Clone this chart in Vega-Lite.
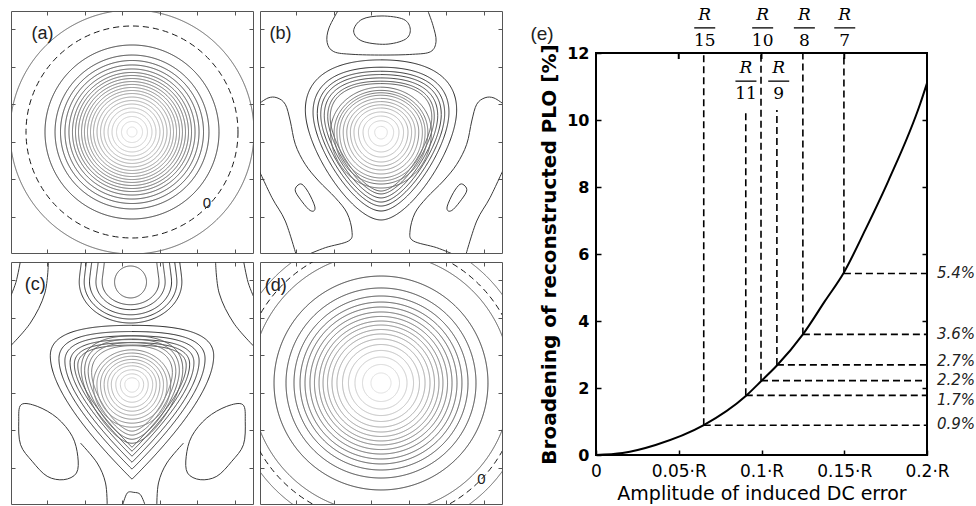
{
"$schema": "https://vega.github.io/schema/vega-lite/v6.json",
"padding": {"left": 10, "top": 5, "right": 0, "bottom": 0},
"background": "white",
"spacing": 27,
"config": {"view": {"stroke": "#555"}, "axis": {"grid": false}},
"resolve": {"scale": {"x": "independent", "y": "independent", "size": "independent", "shape": "independent", "stroke": "independent", "strokeDash": "independent"}},
"datasets": {
"rings": [
{"p":"a","x":0,"y":0,"r":1.008,"g":0.35,"s":"circle","d":"s"},
{"p":"a","x":0,"y":0,"r":0.876,"g":0,"s":"circle","d":"d"},
{"p":"a","x":0,"y":0,"r":0.719,"g":0.12,"s":"circle","d":"s"},
{"p":"a","x":0,"y":0,"r":0.636,"g":0.16,"s":"circle","d":"s"},
{"p":"a","x":0,"y":0,"r":0.591,"g":0.20,"s":"circle","d":"s"},
{"p":"a","x":0,"y":0,"r":0.554,"g":0.24,"s":"circle","d":"s"},
{"p":"a","x":0,"y":0,"r":0.521,"g":0.29,"s":"circle","d":"s"},
{"p":"a","x":0,"y":0,"r":0.492,"g":0.33,"s":"circle","d":"s"},
{"p":"a","x":0,"y":0,"r":0.467,"g":0.37,"s":"circle","d":"s"},
{"p":"a","x":0,"y":0,"r":0.442,"g":0.41,"s":"circle","d":"s"},
{"p":"a","x":0,"y":0,"r":0.417,"g":0.45,"s":"circle","d":"s"},
{"p":"a","x":0,"y":0,"r":0.393,"g":0.49,"s":"circle","d":"s"},
{"p":"a","x":0,"y":0,"r":0.368,"g":0.54,"s":"circle","d":"s"},
{"p":"a","x":0,"y":0,"r":0.343,"g":0.58,"s":"circle","d":"s"},
{"p":"a","x":0,"y":0,"r":0.318,"g":0.62,"s":"circle","d":"s"},
{"p":"a","x":0,"y":0,"r":0.289,"g":0.66,"s":"circle","d":"s"},
{"p":"a","x":0,"y":0,"r":0.260,"g":0.70,"s":"circle","d":"s"},
{"p":"a","x":0,"y":0,"r":0.231,"g":0.74,"s":"circle","d":"s"},
{"p":"a","x":0,"y":0,"r":0.198,"g":0.79,"s":"circle","d":"s"},
{"p":"a","x":0,"y":0,"r":0.165,"g":0.83,"s":"circle","d":"s"},
{"p":"a","x":0,"y":0,"r":0.128,"g":0.87,"s":"circle","d":"s"},
{"p":"a","x":0,"y":0,"r":0.087,"g":0.91,"s":"circle","d":"s"},
{"p":"a","x":0,"y":0,"r":0.041,"g":0.95,"s":"circle","d":"s"},
{"p":"d","x":0,"y":0,"r":1.240,"g":0.35,"s":"circle","d":"s"},
{"p":"d","x":0,"y":0,"r":1.149,"g":0,"s":"circle","d":"d"},
{"p":"d","x":0,"y":0,"r":1.074,"g":0.30,"s":"circle","d":"s"},
{"p":"d","x":0,"y":0,"r":0.884,"g":0.12,"s":"circle","d":"s"},
{"p":"d","x":0,"y":0,"r":0.785,"g":0.17,"s":"circle","d":"s"},
{"p":"d","x":0,"y":0,"r":0.719,"g":0.22,"s":"circle","d":"s"},
{"p":"d","x":0,"y":0,"r":0.669,"g":0.28,"s":"circle","d":"s"},
{"p":"d","x":0,"y":0,"r":0.628,"g":0.33,"s":"circle","d":"s"},
{"p":"d","x":0,"y":0,"r":0.587,"g":0.38,"s":"circle","d":"s"},
{"p":"d","x":0,"y":0,"r":0.550,"g":0.43,"s":"circle","d":"s"},
{"p":"d","x":0,"y":0,"r":0.512,"g":0.48,"s":"circle","d":"s"},
{"p":"d","x":0,"y":0,"r":0.479,"g":0.54,"s":"circle","d":"s"},
{"p":"d","x":0,"y":0,"r":0.442,"g":0.59,"s":"circle","d":"s"},
{"p":"d","x":0,"y":0,"r":0.405,"g":0.64,"s":"circle","d":"s"},
{"p":"d","x":0,"y":0,"r":0.364,"g":0.69,"s":"circle","d":"s"},
{"p":"d","x":0,"y":0,"r":0.318,"g":0.74,"s":"circle","d":"s"},
{"p":"d","x":0,"y":0,"r":0.269,"g":0.80,"s":"circle","d":"s"},
{"p":"d","x":0,"y":0,"r":0.215,"g":0.85,"s":"circle","d":"s"},
{"p":"d","x":0,"y":0,"r":0.153,"g":0.90,"s":"circle","d":"s"},
{"p":"d","x":0,"y":0,"r":0.083,"g":0.95,"s":"circle","d":"s"},
{"p":"b","x":0,"y":0,"r":0.727,"g":0.08,"s":"tri","d":"s"},
{"p":"b","x":0,"y":0,"r":0.653,"g":0.13,"s":"tri","d":"s"},
{"p":"b","x":0,"y":0,"r":0.612,"g":0.18,"s":"tri","d":"s"},
{"p":"b","x":0,"y":0,"r":0.579,"g":0.22,"s":"tri","d":"s"},
{"p":"b","x":0,"y":0,"r":0.545,"g":0.27,"s":"tri","d":"s"},
{"p":"b","x":0,"y":0,"r":0.512,"g":0.32,"s":"tri","d":"s"},
{"p":"b","x":0,"y":0,"r":0.488,"g":0.37,"s":"tri","d":"s"},
{"p":"b","x":0,"y":0,"r":0.463,"g":0.42,"s":"egg","d":"s"},
{"p":"b","x":0,"y":0,"r":0.430,"g":0.46,"s":"egg","d":"s"},
{"p":"b","x":0,"y":0,"r":0.405,"g":0.51,"s":"egg","d":"s"},
{"p":"b","x":0,"y":0,"r":0.380,"g":0.56,"s":"egg","d":"s"},
{"p":"b","x":0,"y":0,"r":0.347,"g":0.61,"s":"egg","d":"s"},
{"p":"b","x":0,"y":0,"r":0.314,"g":0.66,"s":"egg","d":"s"},
{"p":"b","x":0,"y":0,"r":0.281,"g":0.70,"s":"egg","d":"s"},
{"p":"b","x":0,"y":0,"r":0.248,"g":0.75,"s":"egg","d":"s"},
{"p":"b","x":0,"y":0,"r":0.207,"g":0.80,"s":"egg","d":"s"},
{"p":"b","x":0,"y":0,"r":0.165,"g":0.85,"s":"egg","d":"s"},
{"p":"b","x":0,"y":0,"r":0.116,"g":0.90,"s":"egg","d":"s"},
{"p":"b","x":0,"y":0,"r":0.058,"g":0.94,"s":"egg","d":"s"},
{"p":"c","x":0,"y":-0.01,"r":0.785,"g":0.08,"s":"tri2","d":"s"},
{"p":"c","x":0,"y":-0.01,"r":0.702,"g":0.13,"s":"tri2","d":"s"},
{"p":"c","x":0,"y":-0.01,"r":0.645,"g":0.17,"s":"tri2","d":"s"},
{"p":"c","x":0,"y":-0.01,"r":0.595,"g":0.22,"s":"tri2","d":"s"},
{"p":"c","x":0,"y":-0.01,"r":0.554,"g":0.26,"s":"tri2","d":"s"},
{"p":"c","x":0,"y":-0.01,"r":0.521,"g":0.31,"s":"tri2","d":"s"},
{"p":"c","x":0,"y":-0.01,"r":0.488,"g":0.36,"s":"tri","d":"s"},
{"p":"c","x":0,"y":-0.01,"r":0.455,"g":0.40,"s":"tri","d":"s"},
{"p":"c","x":0,"y":-0.01,"r":0.421,"g":0.45,"s":"tri","d":"s"},
{"p":"c","x":0,"y":-0.01,"r":0.388,"g":0.49,"s":"tri","d":"s"},
{"p":"c","x":0,"y":-0.01,"r":0.355,"g":0.54,"s":"egg","d":"s"},
{"p":"c","x":0,"y":-0.01,"r":0.322,"g":0.59,"s":"egg","d":"s"},
{"p":"c","x":0,"y":-0.01,"r":0.289,"g":0.63,"s":"egg","d":"s"},
{"p":"c","x":0,"y":-0.01,"r":0.256,"g":0.68,"s":"egg","d":"s"},
{"p":"c","x":0,"y":-0.01,"r":0.223,"g":0.72,"s":"egg","d":"s"},
{"p":"c","x":0,"y":-0.01,"r":0.190,"g":0.77,"s":"egg","d":"s"},
{"p":"c","x":0,"y":-0.01,"r":0.149,"g":0.82,"s":"egg","d":"s"},
{"p":"c","x":0,"y":-0.01,"r":0.107,"g":0.87,"s":"egg","d":"s"},
{"p":"c","x":0,"y":-0.01,"r":0.066,"g":0.92,"s":"egg","d":"s"},
{"p":"c","x":-0.012,"y":0.835,"r":0.132,"g":0.30,"s":"circle","d":"s"},
{"p":"c","x":-0.012,"y":0.835,"r":0.235,"g":0.25,"s":"U","d":"s"},
{"p":"c","x":-0.012,"y":0.835,"r":0.286,"g":0.21,"s":"U","d":"s"},
{"p":"c","x":-0.012,"y":0.835,"r":0.339,"g":0.17,"s":"U","d":"s"},
{"p":"c","x":-0.012,"y":0.835,"r":0.383,"g":0.14,"s":"U","d":"s"},
{"p":"c","x":-0.012,"y":0.835,"r":0.424,"g":0.11,"s":"U","d":"s"}
],
"curves": [
{"p":"b","id":"bt","i":0,"x":-0.345,"y":1.02},
{"p":"b","id":"bt","i":1,"x":-0.43,"y":0.86},
{"p":"b","id":"bt","i":2,"x":-0.445,"y":0.74},
{"p":"b","id":"bt","i":3,"x":-0.39,"y":0.664},
{"p":"b","id":"bt","i":4,"x":-0.24,"y":0.642},
{"p":"b","id":"bt","i":5,"x":0.01,"y":0.636},
{"p":"b","id":"bt","i":6,"x":0.26,"y":0.642},
{"p":"b","id":"bt","i":7,"x":0.41,"y":0.664},
{"p":"b","id":"bt","i":8,"x":0.455,"y":0.75},
{"p":"b","id":"bt","i":9,"x":0.43,"y":0.88},
{"p":"b","id":"bt","i":10,"x":0.38,"y":1.02},
{"p":"b","id":"bl1","i":0,"x":-1.02,"y":0.225},
{"p":"b","id":"bl1","i":1,"x":-0.934,"y":0.281},
{"p":"b","id":"bl1","i":2,"x":-0.86,"y":0.283},
{"p":"b","id":"bl1","i":3,"x":-0.791,"y":0.229},
{"p":"b","id":"bl1","i":4,"x":-0.75,"y":0.091},
{"p":"b","id":"bl1","i":5,"x":-0.708,"y":-0.102},
{"p":"b","id":"bl1","i":6,"x":-0.626,"y":-0.267},
{"p":"b","id":"bl1","i":7,"x":-0.515,"y":-0.405},
{"p":"b","id":"bl1","i":8,"x":-0.378,"y":-0.543},
{"p":"b","id":"bl1","i":9,"x":-0.281,"y":-0.669},
{"p":"b","id":"bl1","i":10,"x":-0.24,"y":-0.818},
{"p":"b","id":"bl1","i":11,"x":-0.267,"y":-0.9},
{"p":"b","id":"bl1","i":12,"x":-0.46,"y":-0.956},
{"p":"b","id":"bl1","i":13,"x":-0.62,"y":-1.02},
{"p":"b","id":"bl2","i":0,"x":-1.02,"y":-0.29},
{"p":"b","id":"bl2","i":1,"x":-0.901,"y":-0.543},
{"p":"b","id":"bl2","i":2,"x":-0.791,"y":-0.736},
{"p":"b","id":"bl2","i":3,"x":-0.70,"y":-1.02},
{"p":"b","id":"br1","i":0,"x":1.02,"y":0.225},
{"p":"b","id":"br1","i":1,"x":0.934,"y":0.281},
{"p":"b","id":"br1","i":2,"x":0.86,"y":0.283},
{"p":"b","id":"br1","i":3,"x":0.791,"y":0.229},
{"p":"b","id":"br1","i":4,"x":0.75,"y":0.091},
{"p":"b","id":"br1","i":5,"x":0.708,"y":-0.102},
{"p":"b","id":"br1","i":6,"x":0.626,"y":-0.267},
{"p":"b","id":"br1","i":7,"x":0.515,"y":-0.405},
{"p":"b","id":"br1","i":8,"x":0.378,"y":-0.543},
{"p":"b","id":"br1","i":9,"x":0.281,"y":-0.669},
{"p":"b","id":"br1","i":10,"x":0.24,"y":-0.818},
{"p":"b","id":"br1","i":11,"x":0.267,"y":-0.9},
{"p":"b","id":"br1","i":12,"x":0.46,"y":-0.956},
{"p":"b","id":"br1","i":13,"x":0.62,"y":-1.02},
{"p":"b","id":"br2","i":0,"x":1.02,"y":-0.29},
{"p":"b","id":"br2","i":1,"x":0.901,"y":-0.543},
{"p":"b","id":"br2","i":2,"x":0.791,"y":-0.736},
{"p":"b","id":"br2","i":3,"x":0.70,"y":-1.02},
{"p":"c","id":"cb","i":0,"x":-0.081,"y":-1.02},
{"p":"c","id":"cb","i":1,"x":-0.04,"y":-0.91},
{"p":"c","id":"cb","i":2,"x":0.015,"y":-0.904},
{"p":"c","id":"cb","i":3,"x":0.07,"y":-0.923},
{"p":"c","id":"cb","i":4,"x":0.112,"y":-1.02},
{"p":"c","id":"cl","i":0,"x":-0.426,"y":-0.496},
{"p":"c","id":"cl","i":1,"x":-0.288,"y":-0.661},
{"p":"c","id":"cl","i":2,"x":-0.219,"y":-0.826},
{"p":"c","id":"cl","i":3,"x":-0.205,"y":-1.02},
{"p":"c","id":"cr","i":0,"x":0.426,"y":-0.496},
{"p":"c","id":"cr","i":1,"x":0.288,"y":-0.661},
{"p":"c","id":"cr","i":2,"x":0.219,"y":-0.826},
{"p":"c","id":"cr","i":3,"x":0.205,"y":-1.02},
{"p":"c","id":"cL1","i":0,"x":-0.69,"y":1.02},
{"p":"c","id":"cL1","i":1,"x":-0.72,"y":0.744},
{"p":"c","id":"cL1","i":2,"x":-0.84,"y":0.496},
{"p":"c","id":"cL1","i":3,"x":-1.02,"y":0.29},
{"p":"c","id":"cL2","i":0,"x":-0.92,"y":1.02},
{"p":"c","id":"cL2","i":1,"x":-0.96,"y":0.83},
{"p":"c","id":"cL2","i":2,"x":-1.02,"y":0.68},
{"p":"c","id":"cR1","i":0,"x":0.69,"y":1.02},
{"p":"c","id":"cR1","i":1,"x":0.72,"y":0.744},
{"p":"c","id":"cR1","i":2,"x":0.84,"y":0.496},
{"p":"c","id":"cR1","i":3,"x":1.02,"y":0.29},
{"p":"c","id":"cR2","i":0,"x":0.92,"y":1.02},
{"p":"c","id":"cR2","i":1,"x":0.96,"y":0.83},
{"p":"c","id":"cR2","i":2,"x":1.02,"y":0.68}
],
"loops": [
{"p":"b","id":"bto","i":0,"x":-0.226,"y":0.835},
{"p":"b","id":"bto","i":1,"x":-0.157,"y":0.931},
{"p":"b","id":"bto","i":2,"x":0.008,"y":0.959},
{"p":"b","id":"bto","i":3,"x":0.187,"y":0.931},
{"p":"b","id":"bto","i":4,"x":0.242,"y":0.849},
{"p":"b","id":"bto","i":5,"x":0.201,"y":0.766},
{"p":"b","id":"bto","i":6,"x":0.036,"y":0.725},
{"p":"b","id":"bto","i":7,"x":-0.157,"y":0.752},
{"p":"b","id":"blo","i":0,"x":-0.694,"y":-0.446},
{"p":"b","id":"blo","i":1,"x":-0.653,"y":-0.432},
{"p":"b","id":"blo","i":2,"x":-0.598,"y":-0.502},
{"p":"b","id":"blo","i":3,"x":-0.548,"y":-0.612},
{"p":"b","id":"blo","i":4,"x":-0.556,"y":-0.653},
{"p":"b","id":"blo","i":5,"x":-0.598,"y":-0.639},
{"p":"b","id":"blo","i":6,"x":-0.667,"y":-0.556},
{"p":"b","id":"blo","i":7,"x":-0.708,"y":-0.488},
{"p":"b","id":"bro","i":0,"x":0.694,"y":-0.446},
{"p":"b","id":"bro","i":1,"x":0.653,"y":-0.432},
{"p":"b","id":"bro","i":2,"x":0.598,"y":-0.502},
{"p":"b","id":"bro","i":3,"x":0.548,"y":-0.612},
{"p":"b","id":"bro","i":4,"x":0.556,"y":-0.653},
{"p":"b","id":"bro","i":5,"x":0.598,"y":-0.639},
{"p":"b","id":"bro","i":6,"x":0.667,"y":-0.556},
{"p":"b","id":"bro","i":7,"x":0.708,"y":-0.488},
{"p":"c","id":"clo","i":0,"x":-0.916,"y":-0.179},
{"p":"c","id":"clo","i":1,"x":-0.783,"y":-0.193},
{"p":"c","id":"clo","i":2,"x":-0.618,"y":-0.289},
{"p":"c","id":"clo","i":3,"x":-0.494,"y":-0.44},
{"p":"c","id":"clo","i":4,"x":-0.448,"y":-0.606},
{"p":"c","id":"clo","i":5,"x":-0.459,"y":-0.744},
{"p":"c","id":"clo","i":6,"x":-0.564,"y":-0.799},
{"p":"c","id":"clo","i":7,"x":-0.701,"y":-0.771},
{"p":"c","id":"clo","i":8,"x":-0.825,"y":-0.647},
{"p":"c","id":"clo","i":9,"x":-0.921,"y":-0.51},
{"p":"c","id":"clo","i":10,"x":-0.936,"y":-0.317},
{"p":"c","id":"cro","i":0,"x":0.916,"y":-0.179},
{"p":"c","id":"cro","i":1,"x":0.783,"y":-0.193},
{"p":"c","id":"cro","i":2,"x":0.618,"y":-0.289},
{"p":"c","id":"cro","i":3,"x":0.494,"y":-0.44},
{"p":"c","id":"cro","i":4,"x":0.448,"y":-0.606},
{"p":"c","id":"cro","i":5,"x":0.459,"y":-0.744},
{"p":"c","id":"cro","i":6,"x":0.564,"y":-0.799},
{"p":"c","id":"cro","i":7,"x":0.701,"y":-0.771},
{"p":"c","id":"cro","i":8,"x":0.825,"y":-0.647},
{"p":"c","id":"cro","i":9,"x":0.921,"y":-0.51},
{"p":"c","id":"cro","i":10,"x":0.936,"y":-0.317}
],
"labels": [
{"p":"a","k":"tag","x":-0.74,"y":0.81,"t":"(a)"},
{"p":"a","k":"zero","x":0.62,"y":-0.59,"t":"0"},
{"p":"b","k":"tag","x":-0.83,"y":0.81,"t":"(b)"},
{"p":"c","k":"tag","x":-0.8,"y":0.81,"t":"(c)"},
{"p":"d","k":"tag","x":-0.87,"y":0.80,"t":"(d)"},
{"p":"d","k":"zero","x":0.83,"y":-0.79,"t":"0"}
],
"eBox": [
{"x":0,"x2":0,"y":0,"y2":12},
{"x":0.2,"x2":0.2,"y":0,"y2":12},
{"x":0,"x2":0.2,"y":0,"y2":0},
{"x":0,"x2":0.2,"y":12,"y2":12},
{"x":0.05,"x2":0.05,"y":11.85,"y2":12},
{"x":0.1,"x2":0.1,"y":11.85,"y2":12},
{"x":0.15,"x2":0.15,"y":11.85,"y2":12}
],
"eCurve": [
{"x":0,"y":0},{"x":0.016,"y":0.06},{"x":0.036,"y":0.3},{"x":0.0651,"y":0.89},{"x":0.0905,"y":1.76},{"x":0.0997,"y":2.2},{"x":0.1093,"y":2.67},{"x":0.125,"y":3.6},{"x":0.1384,"y":4.6},{"x":0.1498,"y":5.45},{"x":0.1627,"y":6.72},{"x":0.1768,"y":8.2},{"x":0.196,"y":10.5},{"x":0.2,"y":11.1}
],
"eV": [
{"x":0.0651,"y0":0.89,"y1":12},
{"x":0.0905,"y0":1.78,"y1":10.3},
{"x":0.0997,"y0":2.22,"y1":12},
{"x":0.1093,"y0":2.69,"y1":10.3},
{"x":0.125,"y0":3.6,"y1":12},
{"x":0.1498,"y0":5.42,"y1":12}
],
"eH": [
{"x":0.0651,"y":0.89},{"x":0.0905,"y":1.78},{"x":0.0997,"y":2.22},{"x":0.1093,"y":2.69},{"x":0.125,"y":3.6},{"x":0.1498,"y":5.42}
],
"eFrac": [
{"x":0.0657,"yR":13.14,"yB":12.75,"yN":12.36,"n":"15"},
{"x":0.1007,"yR":13.14,"yB":12.75,"yN":12.36,"n":"10"},
{"x":0.1259,"yR":13.14,"yB":12.75,"yN":12.36,"n":"8"},
{"x":0.1503,"yR":13.14,"yB":12.75,"yN":12.36,"n":"7"},
{"x":0.0906,"yR":11.55,"yB":11.16,"yN":10.78,"n":"11"},
{"x":0.1104,"yR":11.55,"yB":11.16,"yN":10.78,"n":"9"}
],
"ePct": [
{"y":5.42,"t":"5.4%"},{"y":3.6,"t":"3.6%"},{"y":2.81,"t":"2.7%"},{"y":2.23,"t":"2.2%"},{"y":1.64,"t":"1.7%"},{"y":0.92,"t":"0.9%"}
],
"eTag": [{"x":-0.0326,"y":12.57,"t":"(e)"}]
},
"hconcat": [
{"vconcat": [
 {"hconcat": [
  {"width":242,"height":242,"view":{"stroke":"#555","strokeWidth":1},
   "resolve":{"axis":{"x":"independent","y":"independent"}},
   "layer":[
    {"data":{"name":"rings"},"transform":[{"filter":"datum.p=='a'"}],
     "mark":{"type":"point","filled":false,"clip":true,"opacity":1,"strokeWidth":1},
     "encoding":{
      "x":{"field":"x","type":"quantitative","scale":{"domain":[-1,1]},"axis":{"orient":"bottom","values":[-0.7,-0.39,-0.08,0.23,0.54,0.85],"labels":false,"domain":false,"tickSize":-4,"tickColor":"#555","title":null}},
      "y":{"field":"y","type":"quantitative","scale":{"domain":[-1,1]},"axis":{"orient":"left","values":[-0.7,-0.39,-0.08,0.23,0.54,0.85],"labels":false,"domain":false,"tickSize":-4,"tickColor":"#555","title":null}},
      "size":{"field":"r","type":"quantitative","scale":{"type":"pow","exponent":2,"domain":[0,2],"range":[0,234256]},"legend":null},
      "shape":{"field":"s","type":"nominal","scale":{"domain":["circle","egg","tri","tri2","U"],"range":["circle","M0,-0.8C0.5,-0.8 0.9,-0.44 0.9,0C0.9,0.55 0.5,1 0,1C-0.5,1 -0.9,0.55 -0.9,0C-0.9,-0.44 -0.5,-0.8 0,-0.8Z","M0,-0.82C0.55,-0.82 0.86,-0.62 0.86,-0.25C0.86,0.2 0.32,1 0,1C-0.32,1 -0.86,0.2 -0.86,-0.25C-0.86,-0.62 -0.55,-0.82 0,-0.82Z","M0,-0.62C0.5,-0.62 0.86,-0.55 0.86,-0.3C0.86,0.1 0.3,0.7 0,1C-0.3,0.7 -0.86,0.1 -0.86,-0.3C-0.86,-0.55 -0.5,-0.62 0,-0.62Z","M-0.85,-1.6C-0.9,-0.6 -1,-0.2 -1,0C-1,0.44 -0.55,0.8 0,0.8C0.55,0.8 1,0.44 1,0C1,-0.2 0.9,-0.6 0.85,-1.6"]},"legend":null},
      "stroke":{"field":"g","type":"quantitative","scale":{"domain":[0,1],"range":["#1a1a1a","#ececec"]},"legend":null},
      "strokeDash":{"field":"d","type":"nominal","scale":{"domain":["s","d"],"range":[[1,0],[6,4]]},"legend":null}
     }},
    {"data":{"name":"labels"},"transform":[{"filter":"datum.p=='a' && datum.k=='tag'"}],
     "mark":{"type":"text","font":"Liberation Sans","fontSize":18,"color":"#222"},
     "encoding":{
      "x":{"field":"x","type":"quantitative","axis":{"orient":"top","values":[-0.7,-0.39,-0.08,0.23,0.54,0.85],"labels":false,"domain":false,"tickSize":-4,"tickColor":"#555","title":null}},
      "y":{"field":"y","type":"quantitative","axis":{"orient":"right","values":[-0.7,-0.39,-0.08,0.23,0.54,0.85],"labels":false,"domain":false,"tickSize":-4,"tickColor":"#555","title":null}},
      "text":{"field":"t"}}},
    {"data":{"name":"labels"},"transform":[{"filter":"datum.p=='a' && datum.k=='zero'"}],
     "mark":{"type":"text","font":"Liberation Sans","fontSize":15,"color":"#222"},
     "encoding":{"x":{"field":"x","type":"quantitative","axis":null},"y":{"field":"y","type":"quantitative","axis":null},"text":{"field":"t"}}}
   ]},
  {"width":242,"height":242,"view":{"stroke":"#555","strokeWidth":1},
   "resolve":{"axis":{"x":"independent","y":"independent"}},
   "layer":[
    {"data":{"name":"rings"},"transform":[{"filter":"datum.p=='b'"}],
     "mark":{"type":"point","filled":false,"clip":true,"opacity":1,"strokeWidth":1},
     "encoding":{
      "x":{"field":"x","type":"quantitative","scale":{"domain":[-1,1]},"axis":{"orient":"bottom","values":[-0.7,-0.39,-0.08,0.23,0.54,0.85],"labels":false,"domain":false,"tickSize":-4,"tickColor":"#555","title":null}},
      "y":{"field":"y","type":"quantitative","scale":{"domain":[-1,1]},"axis":{"orient":"left","values":[-0.7,-0.39,-0.08,0.23,0.54,0.85],"labels":false,"domain":false,"tickSize":-4,"tickColor":"#555","title":null}},
      "size":{"field":"r","type":"quantitative","scale":{"type":"pow","exponent":2,"domain":[0,2],"range":[0,234256]},"legend":null},
      "shape":{"field":"s","type":"nominal","scale":{"domain":["circle","egg","tri","tri2","U"],"range":["circle","M0,-0.8C0.5,-0.8 0.9,-0.44 0.9,0C0.9,0.55 0.5,1 0,1C-0.5,1 -0.9,0.55 -0.9,0C-0.9,-0.44 -0.5,-0.8 0,-0.8Z","M0,-0.82C0.55,-0.82 0.86,-0.62 0.86,-0.25C0.86,0.2 0.32,1 0,1C-0.32,1 -0.86,0.2 -0.86,-0.25C-0.86,-0.62 -0.55,-0.82 0,-0.82Z","M0,-0.62C0.5,-0.62 0.86,-0.55 0.86,-0.3C0.86,0.1 0.3,0.7 0,1C-0.3,0.7 -0.86,0.1 -0.86,-0.3C-0.86,-0.55 -0.5,-0.62 0,-0.62Z","M-0.85,-1.6C-0.9,-0.6 -1,-0.2 -1,0C-1,0.44 -0.55,0.8 0,0.8C0.55,0.8 1,0.44 1,0C1,-0.2 0.9,-0.6 0.85,-1.6"]},"legend":null},
      "stroke":{"field":"g","type":"quantitative","scale":{"domain":[0,1],"range":["#1a1a1a","#ececec"]},"legend":null},
      "strokeDash":{"field":"d","type":"nominal","scale":{"domain":["s","d"],"range":[[1,0],[6,4]]},"legend":null}
     }},
    {"data":{"name":"curves"},"transform":[{"filter":"datum.p=='b'"}],
     "mark":{"type":"line","interpolate":"cardinal","clip":true,"strokeWidth":1,"color":"#3a3a3a"},
     "encoding":{"x":{"field":"x","type":"quantitative","axis":null},"y":{"field":"y","type":"quantitative","axis":null},"detail":{"field":"id"},"order":{"field":"i","type":"quantitative"}}},
    {"data":{"name":"loops"},"transform":[{"filter":"datum.p=='b'"}],
     "mark":{"type":"line","interpolate":"cardinal-closed","clip":true,"strokeWidth":1,"color":"#3a3a3a"},
     "encoding":{"x":{"field":"x","type":"quantitative","axis":null},"y":{"field":"y","type":"quantitative","axis":null},"detail":{"field":"id"},"order":{"field":"i","type":"quantitative"}}},
    {"data":{"name":"labels"},"transform":[{"filter":"datum.p=='b' && datum.k=='tag'"}],
     "mark":{"type":"text","font":"Liberation Sans","fontSize":18,"color":"#222"},
     "encoding":{
      "x":{"field":"x","type":"quantitative","axis":{"orient":"top","values":[-0.7,-0.39,-0.08,0.23,0.54,0.85],"labels":false,"domain":false,"tickSize":-4,"tickColor":"#555","title":null}},
      "y":{"field":"y","type":"quantitative","axis":{"orient":"right","values":[-0.7,-0.39,-0.08,0.23,0.54,0.85],"labels":false,"domain":false,"tickSize":-4,"tickColor":"#555","title":null}},
      "text":{"field":"t"}}}
   ]}
 ], "spacing": 5, "resolve": {"scale": {"x": "independent", "y": "independent"}}},
 {"hconcat": [
  {"width":242,"height":242,"view":{"stroke":"#555","strokeWidth":1},
   "resolve":{"axis":{"x":"independent","y":"independent"}},
   "layer":[
    {"data":{"name":"rings"},"transform":[{"filter":"datum.p=='c'"}],
     "mark":{"type":"point","filled":false,"clip":true,"opacity":1,"strokeWidth":1},
     "encoding":{
      "x":{"field":"x","type":"quantitative","scale":{"domain":[-1,1]},"axis":{"orient":"bottom","values":[-0.7,-0.39,-0.08,0.23,0.54,0.85],"labels":false,"domain":false,"tickSize":-4,"tickColor":"#555","title":null}},
      "y":{"field":"y","type":"quantitative","scale":{"domain":[-1,1]},"axis":{"orient":"left","values":[-0.7,-0.39,-0.08,0.23,0.54,0.85],"labels":false,"domain":false,"tickSize":-4,"tickColor":"#555","title":null}},
      "size":{"field":"r","type":"quantitative","scale":{"type":"pow","exponent":2,"domain":[0,2],"range":[0,234256]},"legend":null},
      "shape":{"field":"s","type":"nominal","scale":{"domain":["circle","egg","tri","tri2","U"],"range":["circle","M0,-0.8C0.5,-0.8 0.9,-0.44 0.9,0C0.9,0.55 0.5,1 0,1C-0.5,1 -0.9,0.55 -0.9,0C-0.9,-0.44 -0.5,-0.8 0,-0.8Z","M0,-0.82C0.55,-0.82 0.86,-0.62 0.86,-0.25C0.86,0.2 0.32,1 0,1C-0.32,1 -0.86,0.2 -0.86,-0.25C-0.86,-0.62 -0.55,-0.82 0,-0.82Z","M0,-0.62C0.5,-0.62 0.86,-0.55 0.86,-0.3C0.86,0.1 0.3,0.7 0,1C-0.3,0.7 -0.86,0.1 -0.86,-0.3C-0.86,-0.55 -0.5,-0.62 0,-0.62Z","M-0.85,-1.6C-0.9,-0.6 -1,-0.2 -1,0C-1,0.44 -0.55,0.8 0,0.8C0.55,0.8 1,0.44 1,0C1,-0.2 0.9,-0.6 0.85,-1.6"]},"legend":null},
      "stroke":{"field":"g","type":"quantitative","scale":{"domain":[0,1],"range":["#1a1a1a","#ececec"]},"legend":null},
      "strokeDash":{"field":"d","type":"nominal","scale":{"domain":["s","d"],"range":[[1,0],[6,4]]},"legend":null}
     }},
    {"data":{"name":"curves"},"transform":[{"filter":"datum.p=='c'"}],
     "mark":{"type":"line","interpolate":"cardinal","clip":true,"strokeWidth":1,"color":"#3a3a3a"},
     "encoding":{"x":{"field":"x","type":"quantitative","axis":null},"y":{"field":"y","type":"quantitative","axis":null},"detail":{"field":"id"},"order":{"field":"i","type":"quantitative"}}},
    {"data":{"name":"loops"},"transform":[{"filter":"datum.p=='c'"}],
     "mark":{"type":"line","interpolate":"cardinal-closed","clip":true,"strokeWidth":1,"color":"#3a3a3a"},
     "encoding":{"x":{"field":"x","type":"quantitative","axis":null},"y":{"field":"y","type":"quantitative","axis":null},"detail":{"field":"id"},"order":{"field":"i","type":"quantitative"}}},
    {"data":{"name":"labels"},"transform":[{"filter":"datum.p=='c' && datum.k=='tag'"}],
     "mark":{"type":"text","font":"Liberation Sans","fontSize":18,"color":"#222"},
     "encoding":{
      "x":{"field":"x","type":"quantitative","axis":{"orient":"top","values":[-0.7,-0.39,-0.08,0.23,0.54,0.85],"labels":false,"domain":false,"tickSize":-4,"tickColor":"#555","title":null}},
      "y":{"field":"y","type":"quantitative","axis":{"orient":"right","values":[-0.7,-0.39,-0.08,0.23,0.54,0.85],"labels":false,"domain":false,"tickSize":-4,"tickColor":"#555","title":null}},
      "text":{"field":"t"}}}
   ]},
  {"width":242,"height":242,"view":{"stroke":"#555","strokeWidth":1},
   "resolve":{"axis":{"x":"independent","y":"independent"}},
   "layer":[
    {"data":{"name":"rings"},"transform":[{"filter":"datum.p=='d'"}],
     "mark":{"type":"point","filled":false,"clip":true,"opacity":1,"strokeWidth":1},
     "encoding":{
      "x":{"field":"x","type":"quantitative","scale":{"domain":[-1,1]},"axis":{"orient":"bottom","values":[-0.7,-0.39,-0.08,0.23,0.54,0.85],"labels":false,"domain":false,"tickSize":-4,"tickColor":"#555","title":null}},
      "y":{"field":"y","type":"quantitative","scale":{"domain":[-1,1]},"axis":{"orient":"left","values":[-0.7,-0.39,-0.08,0.23,0.54,0.85],"labels":false,"domain":false,"tickSize":-4,"tickColor":"#555","title":null}},
      "size":{"field":"r","type":"quantitative","scale":{"type":"pow","exponent":2,"domain":[0,2],"range":[0,234256]},"legend":null},
      "shape":{"field":"s","type":"nominal","scale":{"domain":["circle","egg","tri","tri2","U"],"range":["circle","M0,-0.8C0.5,-0.8 0.9,-0.44 0.9,0C0.9,0.55 0.5,1 0,1C-0.5,1 -0.9,0.55 -0.9,0C-0.9,-0.44 -0.5,-0.8 0,-0.8Z","M0,-0.82C0.55,-0.82 0.86,-0.62 0.86,-0.25C0.86,0.2 0.32,1 0,1C-0.32,1 -0.86,0.2 -0.86,-0.25C-0.86,-0.62 -0.55,-0.82 0,-0.82Z","M0,-0.62C0.5,-0.62 0.86,-0.55 0.86,-0.3C0.86,0.1 0.3,0.7 0,1C-0.3,0.7 -0.86,0.1 -0.86,-0.3C-0.86,-0.55 -0.5,-0.62 0,-0.62Z","M-0.85,-1.6C-0.9,-0.6 -1,-0.2 -1,0C-1,0.44 -0.55,0.8 0,0.8C0.55,0.8 1,0.44 1,0C1,-0.2 0.9,-0.6 0.85,-1.6"]},"legend":null},
      "stroke":{"field":"g","type":"quantitative","scale":{"domain":[0,1],"range":["#1a1a1a","#ececec"]},"legend":null},
      "strokeDash":{"field":"d","type":"nominal","scale":{"domain":["s","d"],"range":[[1,0],[6,4]]},"legend":null}
     }},
    {"data":{"name":"labels"},"transform":[{"filter":"datum.p=='d' && datum.k=='tag'"}],
     "mark":{"type":"text","font":"Liberation Sans","fontSize":18,"color":"#222"},
     "encoding":{
      "x":{"field":"x","type":"quantitative","axis":{"orient":"top","values":[-0.7,-0.39,-0.08,0.23,0.54,0.85],"labels":false,"domain":false,"tickSize":-4,"tickColor":"#555","title":null}},
      "y":{"field":"y","type":"quantitative","axis":{"orient":"right","values":[-0.7,-0.39,-0.08,0.23,0.54,0.85],"labels":false,"domain":false,"tickSize":-4,"tickColor":"#555","title":null}},
      "text":{"field":"t"}}},
    {"data":{"name":"labels"},"transform":[{"filter":"datum.p=='d' && datum.k=='zero'"}],
     "mark":{"type":"text","font":"Liberation Sans","fontSize":15,"color":"#222"},
     "encoding":{"x":{"field":"x","type":"quantitative","axis":null},"y":{"field":"y","type":"quantitative","axis":null},"text":{"field":"t"}}}
   ]}
 ], "spacing": 5, "resolve": {"scale": {"x": "independent", "y": "independent"}}}
], "spacing": 7, "resolve": {"scale": {"x": "independent", "y": "independent"}}},
{"width":331,"height":444,"view":{"stroke":null},
 "resolve":{"axis":{"x":"independent","y":"independent"}},
 "layer":[
  {"data":{"name":"eV"},
   "mark":{"type":"rule","color":"black","strokeWidth":1.6,"strokeDash":[7,4]},
   "encoding":{
    "x":{"field":"x","type":"quantitative","scale":{"domain":[0,0.2],"nice":false},
         "axis":{"orient":"bottom","values":[0,0.05,0.1,0.15,0.2],"format":".2~f","labelExpr":"datum.value==0 ? '0' : datum.label + '·R'","labelFlush":false,"labelOverlap":false,"domain":false,"tickSize":-5,"tickWidth":1.5,"tickColor":"black","labelFont":"DejaVu Sans","labelFontSize":17,"labelColor":"black","labelPadding":13,"title":"Amplitude of induced DC error","titleFont":"DejaVu Sans","titleFontSize":19,"titleFontWeight":"normal","titleColor":"black","titlePadding":5}},
    "y":{"field":"y0","type":"quantitative","scale":{"domain":[0,13.254],"nice":false},
         "axis":{"orient":"left","values":[0,2,4,6,8,10,12],"labelFlush":false,"labelOverlap":false,"domain":false,"tickSize":-5,"tickWidth":1.5,"tickColor":"black","labelFont":"DejaVu Sans","labelFontSize":16,"labelFontWeight":"bold","labelColor":"black","labelPadding":12,"title":"Broadening of reconstructed PLO [%]","titleFont":"DejaVu Sans","titleFontSize":20,"titleFontWeight":"bold","titleColor":"black","titlePadding":7,"titleY":243}},
    "y2":{"field":"y1"}}},
  {"data":{"name":"eH"},
   "mark":{"type":"rule","color":"black","strokeWidth":1.6,"strokeDash":[7,4]},
   "encoding":{
    "x":{"field":"x","type":"quantitative","axis":null},
    "x2":{"datum":0.2},
    "y":{"field":"y","type":"quantitative","axis":{"orient":"right","values":[2,4,6,8,10],"labels":false,"domain":false,"tickSize":-5,"tickWidth":1.5,"tickColor":"black","title":null}}}},
  {"data":{"name":"eBox"},
   "mark":{"type":"rule","color":"black","strokeWidth":2,"strokeCap":"square"},
   "encoding":{"x":{"field":"x","type":"quantitative","axis":null},"x2":{"field":"x2"},"y":{"field":"y","type":"quantitative","axis":null},"y2":{"field":"y2"}}},
  {"data":{"name":"eCurve"},
   "mark":{"type":"line","color":"black","strokeWidth":2,"interpolate":"monotone"},
   "encoding":{"x":{"field":"x","type":"quantitative","axis":null},"y":{"field":"y","type":"quantitative","axis":null}}},
  {"data":{"name":"eFrac"},
   "mark":{"type":"text","font":"DejaVu Serif","fontStyle":"italic","fontSize":17,"color":"black"},
   "encoding":{"x":{"field":"x","type":"quantitative","axis":null},"y":{"field":"yR","type":"quantitative","axis":null},"text":{"value":"R"}}},
  {"data":{"name":"eFrac"},
   "mark":{"type":"tick","orient":"horizontal","thickness":1.3,"color":"black","opacity":1},
   "encoding":{"x":{"field":"x","type":"quantitative","axis":null},"y":{"field":"yB","type":"quantitative","axis":null},
     "size":{"field":"n","type":"nominal","scale":{"domain":["15","10","11","8","7","9"],"range":[21,21,21,13,13,13]},"legend":null}}},
  {"data":{"name":"eFrac"},
   "mark":{"type":"text","font":"DejaVu Serif","fontSize":17,"color":"black"},
   "encoding":{"x":{"field":"x","type":"quantitative","axis":null},"y":{"field":"yN","type":"quantitative","axis":null},"text":{"field":"n"}}},
  {"data":{"name":"ePct"},
   "mark":{"type":"text","font":"DejaVu Sans","fontStyle":"italic","fontSize":15,"color":"#222","align":"left","dx":10},
   "encoding":{"x":{"datum":0.2,"axis":null},"y":{"field":"y","type":"quantitative","axis":null},"text":{"field":"t"}}},
  {"data":{"name":"eTag"},
   "mark":{"type":"text","font":"Liberation Sans","fontSize":19,"color":"#222"},
   "encoding":{"x":{"field":"x","type":"quantitative","axis":null},"y":{"field":"y","type":"quantitative","axis":null},"text":{"field":"t"}}}
 ]}
]
}
